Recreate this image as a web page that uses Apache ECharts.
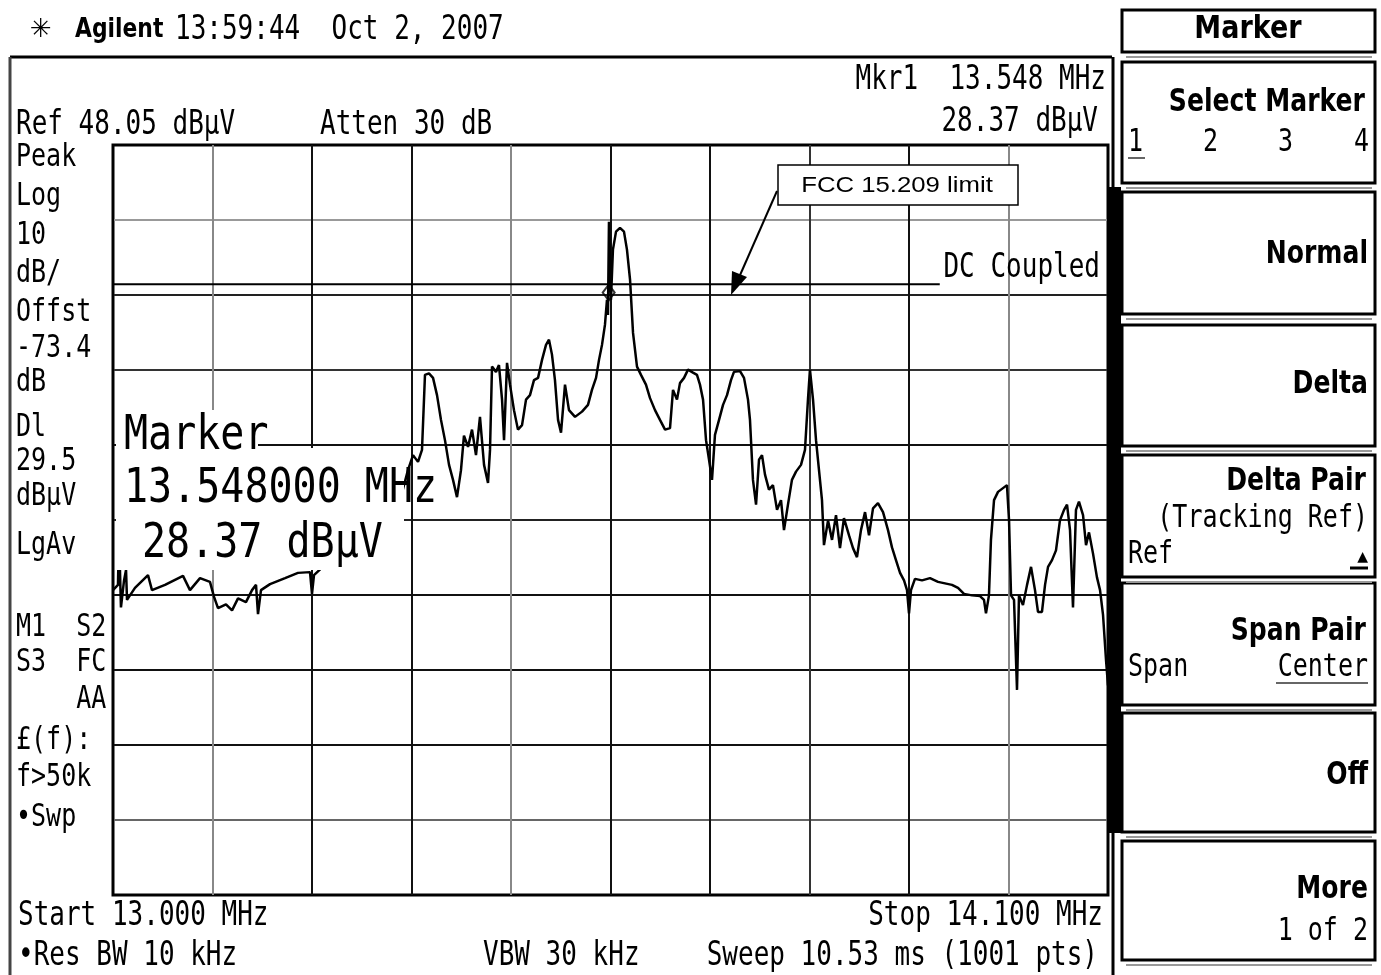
<!DOCTYPE html>
<html>
<head>
<meta charset="utf-8">
<script src="https://cdn.jsdelivr.net/npm/echarts@6/dist/echarts.min.js"></script>
<style>
  html, body { margin: 0; padding: 0; background: #fff; }
  #main { width: 1381px; height: 975px; }
</style>
</head>
<body>
<div id="main"></div>
<script>
// screen settings (Ref level at top, 10 dB/div, 13.000 - 14.100 MHz)
var REF_LEVEL = 48.05;
var START_MHZ = 13.0;
var STOP_MHZ = 14.1;

// trace: frequency (MHz) and level (dBµV)
var freqMHz = [
  13.0000, 13.0055, 13.0066, 13.0088, 13.0122, 13.0144, 13.0155, 13.0243, 13.0387, 13.0431,
  13.0575, 13.0774, 13.0851, 13.0962, 13.1072, 13.1117, 13.1161, 13.1249, 13.1316, 13.1382,
  13.1470, 13.1537, 13.1581, 13.1603, 13.1636, 13.1736, 13.1902, 13.2045, 13.2178, 13.2200,
  13.2222, 13.2399, 13.2620, 13.2841, 13.3062, 13.3173, 13.3261, 13.3317, 13.3372, 13.3416,
  13.3449, 13.3493, 13.3538, 13.3582, 13.3626, 13.3670, 13.3715, 13.3759, 13.3803, 13.3847,
  13.3880, 13.3925, 13.3969, 13.4013, 13.4057, 13.4102, 13.4146, 13.4168, 13.4190, 13.4234,
  13.4267, 13.4301, 13.4323, 13.4356, 13.4389, 13.4433, 13.4477, 13.4522, 13.4566, 13.4610,
  13.4654, 13.4699, 13.4743, 13.4787, 13.4820, 13.4853, 13.4886, 13.4920, 13.4953, 13.4997,
  13.5041, 13.5108, 13.5185, 13.5251, 13.5295, 13.5340, 13.5373, 13.5406, 13.5439, 13.5461,
  13.5472, 13.5483, 13.5505, 13.5527, 13.5561, 13.5605, 13.5649, 13.5682, 13.5716, 13.5749,
  13.5793, 13.5837, 13.5892, 13.5937, 13.5992, 13.6047, 13.6103, 13.6158, 13.6191, 13.6235,
  13.6268, 13.6313, 13.6357, 13.6412, 13.6456, 13.6489, 13.6523, 13.6556, 13.6589, 13.6622,
  13.6655, 13.6700, 13.6744, 13.6788, 13.6832, 13.6865, 13.6932, 13.6976, 13.7020, 13.7042,
  13.7075, 13.7109, 13.7142, 13.7175, 13.7208, 13.7252, 13.7296, 13.7341, 13.7385, 13.7418,
  13.7462, 13.7506, 13.7551, 13.7606, 13.7650, 13.7683, 13.7705, 13.7739, 13.7772, 13.7805,
  13.7838, 13.7860, 13.7905, 13.7949, 13.7993, 13.8037, 13.8081, 13.8137, 13.8181, 13.8225,
  13.8269, 13.8314, 13.8358, 13.8402, 13.8457, 13.8513, 13.8568, 13.8612, 13.8656, 13.8701,
  13.8745, 13.8778, 13.8800, 13.8822, 13.8866, 13.8944, 13.9032, 13.9121, 13.9198, 13.9275,
  13.9342, 13.9408, 13.9497, 13.9585, 13.9629, 13.9651, 13.9684, 13.9706, 13.9740, 13.9784,
  13.9839, 13.9883, 13.9906, 13.9928, 13.9961, 13.9994, 14.0016, 14.0060, 14.0105, 14.0149,
  14.0193, 14.0226, 14.0270, 14.0304, 14.0337, 14.0381, 14.0425, 14.0469, 14.0514, 14.0547,
  14.0580, 14.0613, 14.0646, 14.0679, 14.0724, 14.0757, 14.0790, 14.0834, 14.0878, 14.0912,
  14.0945, 14.0978, 14.1000
];
var levelDbuv = [
  -11.3, -10.6, -3.7, -13.6, -10.0, -8.6, -12.6, -11.0, -9.3, -11.3,
  -10.6, -9.4, -11.3, -9.7, -10.2, -12.2, -13.7, -13.2, -14.0, -12.4,
  -12.9, -11.3, -10.6, -14.5, -11.3, -10.5, -9.7, -9.0, -8.9, -11.8,
  -9.3, -7.3, -5.3, -3.3, -1.3, 0.7, 4.7, 6.7, 5.8, 7.4,
  17.4, 17.6, 17.0, 14.7, 11.4, 8.7, 5.4, 3.4, 1.1, 4.7,
  9.3, 7.8, 10.1, 6.7, 11.8, 5.4, 3.0, 7.4, 18.5, 17.8,
  18.7, 14.1, 8.7, 19.0, 16.1, 12.7, 10.1, 10.7, 14.1, 14.7,
  16.7, 17.0, 19.4, 21.4, 22.1, 20.1, 16.7, 11.4, 9.7, 16.1,
  12.7, 11.8, 12.5, 13.4, 15.4, 17.0, 19.4, 21.4, 24.1, 27.4,
  25.4, 37.8, 27.4, 34.1, 36.5, 37.0, 36.5, 34.1, 30.1, 23.0,
  18.5, 17.4, 16.1, 14.3, 12.7, 11.4, 10.1, 10.3, 15.4, 14.1,
  16.3, 17.0, 18.1, 17.7, 17.4, 16.1, 14.1, 8.7, 6.1, 3.4,
  9.4, 11.4, 13.4, 14.7, 16.7, 17.8, 17.9, 17.0, 14.1, 11.4,
  3.4, 0.1, 6.1, 6.7, 4.1, 2.1, 2.7, -0.6, 0.7, -3.3,
  0.1, 3.4, 4.5, 5.4, 7.4, 14.1, 18.1, 14.1, 8.7, 4.7,
  0.7, -5.3, -2.0, -4.6, -1.3, -5.7, -1.7, -4.0, -5.7, -6.9,
  -3.3, -0.9, -4.0, -0.4, 0.3, -0.9, -3.3, -5.6, -7.3, -9.0,
  -10.0, -11.3, -14.4, -11.3, -9.8, -10.0, -9.7, -10.2, -10.4, -10.6,
  -11.0, -11.8, -12.0, -12.1, -12.6, -14.4, -12.0, -4.6, 0.7, 1.8,
  2.3, 2.7, -2.0, -12.0, -12.6, -24.6, -12.0, -13.3, -10.6, -8.2,
  -11.3, -14.2, -14.2, -10.6, -8.2, -7.3, -6.0, -2.0, -0.6, 0.1,
  -3.3, -13.6, -0.6, 0.5, -1.3, -5.3, -3.6, -6.4, -9.6, -11.3,
  -14.6, -20.6, -24.0
];

// marker 1 and display line
var markerMHz = [13.548];
var markerDbuv = [28.37];
var displayLineDbuv = 29.5;
var displayLineEndMHz = 13.914;

// the chart axes: kHz from start, dB below reference (so ticks fall on the divisions)
function toX(f) { return Math.round((f - START_MHZ) * 10000) / 10; }
function toY(v) { return Math.round((v - REF_LEVEL) * 100) / 100; }

var traceData = freqMHz.map(function (f, i) { return [toX(f), toY(levelDbuv[i])]; });
var markerData = markerMHz.map(function (f, i) { return [toX(f), toY(markerDbuv[i])]; });
var dlData = [[toX(START_MHZ), toY(displayLineDbuv)], [toX(displayLineEndMHz), toY(displayLineDbuv)]];

var mono = '"DejaVu Sans Mono"';
var sans = '"DejaVu Sans"';

function txt(x, y, text, o) {
  o = o || {};
  var font = (o.bold ? 'bold ' : '') + (o.size || 26) + 'px ' + (o.family || mono);
  return {
    type: 'text', x: x, y: y, z: 120,
    scaleX: o.sx || 1, scaleY: o.sy || 1.3,
    style: {
      text: text, font: font, fill: '#000',
      align: o.align || 'left', verticalAlign: 'middle',
      textAlign: o.align || 'left', textVerticalAlign: 'middle'
    }
  };
}
function rect(x, y, w, h, o) {
  o = o || {};
  return {
    type: 'rect', z: o.z || 110,
    shape: { x: x, y: y, width: w, height: h },
    style: { fill: o.fill || '#fff', stroke: o.stroke || null, lineWidth: o.lw || 0 }
  };
}
function seg(x1, y1, x2, y2, w, c) {
  return {
    type: 'line', z: 115,
    shape: { x1: x1, y1: y1, x2: x2, y2: y2 },
    style: { stroke: c || '#000', lineWidth: w || 2 }
  };
}

var graphics = [];
// outer frame of the screen
graphics.push(seg(10, 57, 1112, 57, 3));
graphics.push(seg(10, 57, 10, 975, 3, '#444'));
graphics.push(seg(1113, 57, 1113, 975, 3));
graphics.push(rect(1108, 187, 13, 646, { fill: '#000', z: 116 }));

// header
graphics.push(txt(30, 30, '\u2733', { family: sans, size: 26, sy: 1 }));
graphics.push(txt(75, 30, 'Agilent', { family: sans, bold: true, size: 23, sy: 1.15, sx: 0.95 }));
graphics.push(txt(175, 30, '13:59:44  Oct 2, 2007'));

// top annotations
graphics.push(txt(1106, 80, 'Mkr1  13.548 MHz', { align: 'right' }));
graphics.push(txt(1098, 122, '28.37 dB\u00b5V', { align: 'right' }));
graphics.push(txt(16, 125, 'Ref 48.05 dB\u00b5V'));
graphics.push(txt(320, 125, 'Atten 30 dB'));

// left status column
var leftLabels = [
  ['Peak', 158], ['Log', 197], ['10', 236], ['dB/', 274], ['Offst', 313], ['-73.4', 349],
  ['dB', 383], ['Dl', 428], ['29.5', 462], ['dB\u00b5V', 497], ['LgAv', 546],
  ['M1  S2', 628], ['S3  FC', 663], ['    AA', 700], ['\u00a3(f):', 741], ['f>50k', 778], ['\u2022Swp', 818]
];
leftLabels.forEach(function (l) { graphics.push(txt(16, l[1], l[0], { size: 25 })); });

// bottom annotations
graphics.push(txt(18, 916, 'Start 13.000 MHz'));
graphics.push(txt(1103, 916, 'Stop 14.100 MHz', { align: 'right' }));
graphics.push(txt(18, 956, '\u2022Res BW 10 kHz'));
graphics.push(txt(483, 956, 'VBW 30 kHz'));
graphics.push(txt(1098, 956, 'Sweep 10.53 ms (1001 pts)', { align: 'right' }));

// display line label
graphics.push(txt(1100, 268, 'DC Coupled', { align: 'right' }));

// marker readout box over the trace
graphics.push(rect(116, 410, 142, 160, { z: 105 }));
graphics.push(rect(258, 448, 146, 122, { z: 105 }));
graphics.push(txt(124, 437, 'Marker', { size: 40, sy: 1.2 }));
graphics.push(txt(124, 490, '13.548000 MHz', { size: 40, sy: 1.2 }));
graphics.push(txt(142, 545, '28.37 dB\u00b5V', { size: 40, sy: 1.2 }));

// FCC limit callout
graphics.push(rect(778, 165, 240, 40, { stroke: '#000', lw: 1.5, z: 118 }));
graphics.push(txt(897, 186, 'FCC 15.209 limit', { family: '"Liberation Sans"', size: 22, sy: 1, sx: 1.17, align: 'center' }));
graphics.push(seg(777, 191, 737, 282, 2));
graphics.push({
  type: 'polygon', z: 119,
  shape: { points: [[731, 295], [747, 277], [732, 271]] },
  style: { fill: '#000' }
});

// softkey panel
var keys = [[10, 42], [62, 121], [192, 122], [325, 121], [455, 122], [583, 122], [713, 119], [841, 119]];
keys.forEach(function (k) {
  graphics.push(rect(1122, k[0], 253, k[1], { stroke: '#000', lw: 3 }));
  graphics.push(seg(1126, k[0] + k[1] + 5, 1372, k[0] + k[1] + 5, 2, '#999'));
});
graphics.push(txt(1248, 30, 'Marker', { family: sans, bold: true, size: 27, sy: 1.15, align: 'center' }));
graphics.push(txt(1365, 103, 'Select Marker', { family: sans, bold: true, size: 27, sy: 1.15, sx: 0.93, align: 'right' }));
graphics.push(txt(1128, 143, '1', { size: 25 }));
graphics.push(txt(1203, 143, '2', { size: 25 }));
graphics.push(txt(1278, 143, '3', { size: 25 }));
graphics.push(txt(1354, 143, '4', { size: 25 }));
graphics.push(seg(1128, 158, 1145, 158, 2, '#666'));
graphics.push(txt(1368, 255, 'Normal', { family: sans, bold: true, size: 27, sy: 1.15, sx: 0.93, align: 'right' }));
graphics.push(txt(1368, 385, 'Delta', { family: sans, bold: true, size: 27, sy: 1.15, sx: 0.93, align: 'right' }));
graphics.push(txt(1366, 482, 'Delta Pair', { family: sans, bold: true, size: 27, sy: 1.15, sx: 0.93, align: 'right' }));
graphics.push(txt(1368, 519, '(Tracking Ref)', { size: 25, align: 'right' }));
graphics.push(txt(1128, 555, 'Ref', { size: 25 }));
graphics.push(txt(1368, 557, '\u25b2', { family: sans, size: 14, sy: 1, align: 'right' }));
graphics.push(seg(1350, 568, 1368, 568, 3));
graphics.push(txt(1366, 632, 'Span Pair', { family: sans, bold: true, size: 27, sy: 1.15, sx: 0.93, align: 'right' }));
graphics.push(txt(1128, 668, 'Span', { size: 25 }));
graphics.push(txt(1368, 668, 'Center', { size: 25, align: 'right' }));
graphics.push(seg(1276, 683, 1368, 683, 2, '#666'));
graphics.push(txt(1368, 776, 'Off', { family: sans, bold: true, size: 27, sy: 1.15, sx: 0.93, align: 'right' }));
graphics.push(txt(1368, 890, 'More', { family: sans, bold: true, size: 27, sy: 1.15, sx: 0.93, align: 'right' }));
graphics.push(txt(1368, 932, '1 of 2', { size: 25, align: 'right' }));

var chart = echarts.init(document.getElementById('main'));
chart.setOption({
  animation: false,
  backgroundColor: '#fff',
  grid: {
    left: 113, top: 145, width: 995, height: 750,
    show: true, borderColor: '#000', borderWidth: 3
  },
  xAxis: {
    type: 'value', min: 0, max: 1100, interval: 110,
    axisLine: { show: false }, axisTick: { show: false }, axisLabel: { show: false },
    splitLine: {
      show: true,
      lineStyle: {
        width: 2,
        color: ['#000', '#888', '#111', '#111', '#888', '#111', '#111', '#333', '#111', '#888', '#000']
      }
    }
  },
  yAxis: {
    type: 'value', min: -100, max: 0, interval: 10,
    axisLine: { show: false }, axisTick: { show: false }, axisLabel: { show: false },
    splitLine: {
      show: true,
      lineStyle: {
        width: 2,
        color: ['#000', '#666', '#111', '#111', '#111', '#222', '#111', '#333', '#222', '#999', '#000']
      }
    }
  },
  series: [
    {
      type: 'line', name: 'trace', data: traceData, showSymbol: false,
      lineStyle: { color: '#000', width: 2.5 }, z: 5
    },
    {
      type: 'line', name: 'display line', data: dlData, showSymbol: false,
      lineStyle: { color: '#000', width: 2 }, z: 4
    },
    {
      type: 'scatter', name: 'Mkr1', data: markerData,
      symbol: 'diamond', symbolSize: [12, 16],
      itemStyle: { color: 'rgba(255,255,255,0)', borderColor: '#000', borderWidth: 2 }, z: 6
    }
  ],
  graphic: graphics
});
</script>
</body>
</html>
